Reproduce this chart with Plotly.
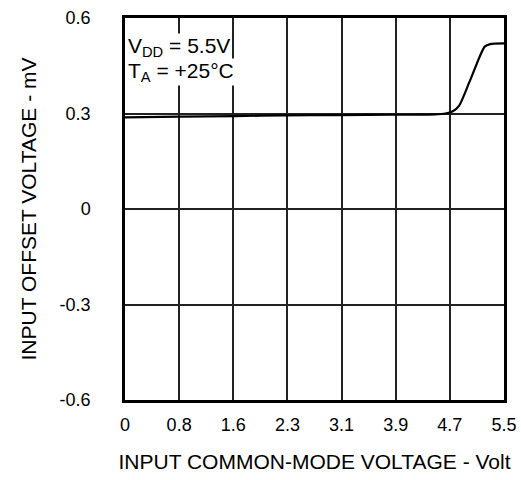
import plotly.graph_objects as go

# Data
vcm = [0.0, 0.8, 1.6, 2.3, 3.1, 3.9, 4.5, 4.65, 4.75, 4.85, 5.0, 5.15, 5.22, 5.3, 5.5]
vos = [0.288, 0.290, 0.292, 0.294, 0.295, 0.296, 0.297, 0.300, 0.306, 0.325, 0.400, 0.480, 0.510, 0.518, 0.520]

tick_vals = [i * 5.5 / 7 for i in range(8)]
tick_text = ["0", "0.8", "1.6", "2.3", "3.1", "3.9", "4.7", "5.5"]
y_ticks = [-0.6, -0.3, 0, 0.3, 0.6]
y_text = ["-0.6", "-0.3", "0", "0.3", "0.6"]

fam = "Liberation Sans, Arial, sans-serif"
tfont = dict(family=fam, size=18, color="black")
titfont = dict(family=fam, size=21, color="black")

fig = go.Figure()
fig.add_trace(go.Scatter(x=vcm, y=vos, mode="lines",
                         line=dict(color="black", width=2.2, shape="spline", smoothing=0.6),
                         showlegend=False, hoverinfo="skip"))

fig.update_layout(
    width=521, height=480,
    margin=dict(l=125, r=17, t=18, b=80, autoexpand=False),
    paper_bgcolor="white", plot_bgcolor="white",
    font=tfont,
    xaxis=dict(range=[0, 5.5], tickvals=tick_vals, ticktext=tick_text, showgrid=True,
               gridcolor="#222", gridwidth=1.5, zeroline=False, showline=True, linecolor="black",
               linewidth=2.5, mirror=True, ticks="outside", ticklen=7, tickcolor="rgba(0,0,0,0)",
               automargin=False,
               title=dict(text="INPUT COMMON-MODE VOLTAGE - Volt", standoff=20, font=titfont),
               tickfont=tfont),
    yaxis=dict(range=[-0.6, 0.6], tickvals=y_ticks, ticktext=y_text, showgrid=True,
               gridcolor="#222", gridwidth=1.5, zeroline=False, showline=True, linecolor="black",
               linewidth=2.5, mirror=True, ticks="outside", ticklen=28, tickcolor="rgba(0,0,0,0)",
               automargin=False,
               title=dict(text="INPUT OFFSET VOLTAGE - mV", standoff=18, font=titfont),
               tickfont=tfont),
)

afont = dict(family=fam, size=21, color="black")
fig.add_annotation(xref="x", yref="y", x=0.03, y=0.51, xanchor="left", yanchor="middle",
                   text="V<sub>DD</sub> = 5.5V", showarrow=False, bgcolor="white",
                   borderpad=0, font=afont)
fig.add_annotation(xref="x", yref="y", x=0.03, y=0.43, xanchor="left", yanchor="middle",
                   text="T<sub>A</sub> = +25°C", showarrow=False, bgcolor="white",
                   borderpad=0, font=afont)

fig.write_html("out.html", config={"displayModeBar": False},
               post_script="document.body.style.margin='0';")
